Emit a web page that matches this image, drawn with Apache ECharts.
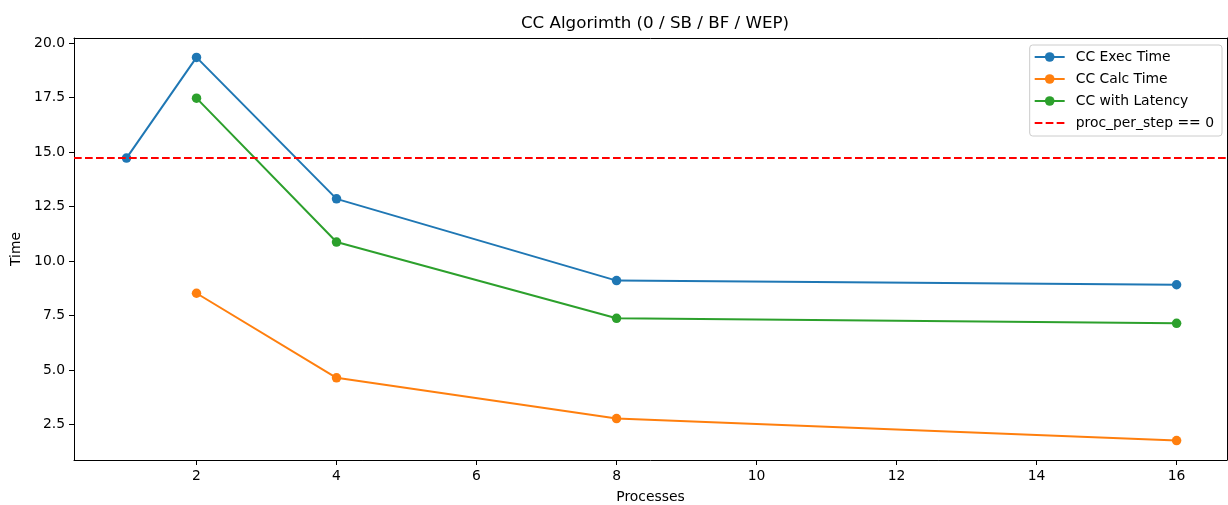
<!doctype html>
<html>
<head>
<meta charset="utf-8">
<title>CC Algorimth</title>
<script src="https://cdn.jsdelivr.net/npm/echarts@6/dist/echarts.min.js"></script>
<style>
    html, body { margin: 0; padding: 0; background: #fff; }
    #chart { width: 1228px; height: 505px; }
</style>
</head>
<body>
<div id="chart"></div>
<script type="text/javascript">
    // values
    var processes = [1, 2, 4, 8, 16];
    var execTime = [14.72, 19.34, 12.85, 9.10, 8.91];
    var calcTime = [null, 8.52, 4.64, 2.77, 1.76];
    var latencyTime = [null, 17.47, 10.87, 7.37, 7.14];
    var procPerStepZero = 14.72;

    var xTicks = [2, 4, 6, 8, 10, 12, 14, 16];
    var yTicks = [2.5, 5, 7.5, 10, 12.5, 15, 17.5, 20];
    var xLimits = [0.25, 16.72];
    var yLimits = [0.87, 20.23];

    var font = 'DejaVu Sans';
    // three short dashes for the legend (degenerate corners fix the box to 30x12)
    var dashIcon = 'path://M0,0L0,0M30,12L30,12' +
        'M0,5L7.7,5L7.7,7L0,7Z' +
        'M11,5L18.7,5L18.7,7L11,7Z' +
        'M22,5L29.7,5L29.7,7L22,7Z';

    function pairs(xs, ys) {
        var out = [];
        for (var i = 0; i < xs.length; i++) {
            if (ys[i] !== null) out.push([xs[i], ys[i]]);
        }
        return out;
    }

    function lineSeries(name, color, values) {
        return {
            name: name,
            type: 'line',
            data: pairs(processes, values),
            symbol: 'circle',
            symbolSize: 9.5,
            color: color,
            lineStyle: { width: 2, color: color },
            itemStyle: { color: color },
            z: 3
        };
    }

    var axisText = { fontFamily: font, fontSize: 13.9, color: '#000' };
    var spine = { show: true, onZero: false, lineStyle: { color: '#000', width: 1 } };

    // top / right spines only
    function frameAxis(min, max, pos) {
        return {
            type: 'value', min: min, max: max, position: pos,
            axisLine: spine, axisTick: { show: false }, axisLabel: { show: false },
            splitLine: { show: false }
        };
    }

    var chart = echarts.init(document.getElementById('chart'));
    var option = {
        animation: false,
        backgroundColor: '#fff',
        textStyle: { fontFamily: font },
        title: {
            text: 'CC Algorimth (0 / SB / BF / WEP)',
            left: 650,
            textAlign: 'center',
            top: 10,
            textStyle: { fontFamily: font, fontSize: 16.7, fontWeight: 'normal', color: '#000' }
        },
        grid: {
            left: 74, right: 1, top: 38, bottom: 45,
            outerBoundsMode: 'none'
        },
        legend: {
            orient: 'vertical',
            right: 6,
            top: 45,
            padding: [5, 8, 6, 4],
            itemWidth: 30,
            itemHeight: 12,
            itemGap: 8,
            backgroundColor: 'rgba(255,255,255,0.8)',
            borderColor: '#cccccc',
            borderWidth: 1,
            borderRadius: 3,
            textStyle: { fontFamily: font, fontSize: 13.9, color: '#000', padding: [0, 0, 0, 6] },
            data: [
                'CC Exec Time',
                'CC Calc Time',
                'CC with Latency',
                { name: 'proc_per_step == 0', icon: dashIcon }
            ]
        },
        xAxis: [{
            type: 'value',
            min: xLimits[0],
            max: xLimits[1],
            position: 'bottom',
            name: 'Processes',
            nameLocation: 'middle',
            nameGap: 30,
            nameTextStyle: axisText,
            axisLine: spine,
            axisTick: { show: true, customValues: xTicks, length: 5, lineStyle: { color: '#000', width: 1 } },
            axisLabel: Object.assign({ customValues: xTicks, margin: 9 }, axisText),
            splitLine: { show: false }
        }, frameAxis(xLimits[0], xLimits[1], 'top')],
        yAxis: [{
            type: 'value',
            min: yLimits[0],
            max: yLimits[1],
            position: 'left',
            name: 'Time',
            nameLocation: 'middle',
            nameGap: 48,
            nameTextStyle: axisText,
            axisLine: spine,
            axisTick: { show: true, customValues: yTicks, length: 5, lineStyle: { color: '#000', width: 1 } },
            axisLabel: Object.assign({
                customValues: yTicks, margin: 9,
                formatter: function (v) { return v.toFixed(1); }
            }, axisText),
            splitLine: { show: false }
        }, frameAxis(yLimits[0], yLimits[1], 'right')],
        series: [
            lineSeries('CC Exec Time', '#1f77b4', execTime),
            lineSeries('CC Calc Time', '#ff7f0e', calcTime),
            lineSeries('CC with Latency', '#2ca02c', latencyTime),
            {
                name: 'proc_per_step == 0',
                type: 'line',
                data: [],
                symbol: 'none',
                color: '#ff0000',
                lineStyle: { width: 2, color: '#ff0000', type: [7.7, 3.3] },
                markLine: {
                    silent: true,
                    symbol: 'none',
                    label: { show: false },
                    lineStyle: { width: 2, color: '#ff0000', type: [7.7, 3.3] },
                    data: [{ yAxis: procPerStepZero }]
                },
                z: 2
            }
        ]
    };
    chart.setOption(option);
</script>
</body>
</html>
